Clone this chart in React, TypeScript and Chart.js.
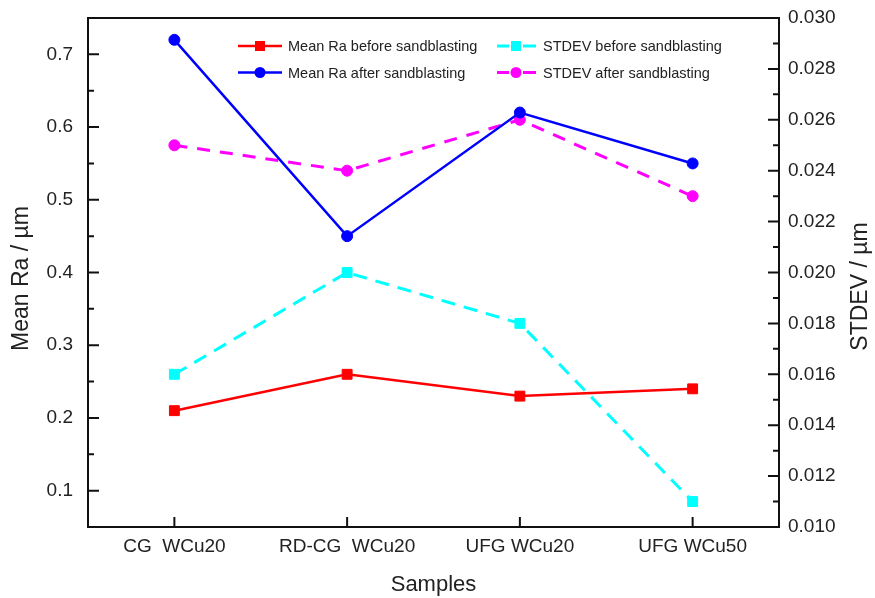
import React, { useEffect, useRef } from "react";
import { Chart, registerables } from "chart.js";

Chart.register(...registerables);

const categories = ["CG  WCu20", "RD-CG  WCu20", "UFG WCu20", "UFG WCu50"];
const meanRaBefore = [0.21, 0.26, 0.23, 0.24];
const meanRaAfter = [0.72, 0.45, 0.62, 0.55];
const stdevBefore = [0.016, 0.02, 0.018, 0.011];
const stdevAfter = [0.025, 0.024, 0.026, 0.023];
const leftTicks = [0.1, 0.2, 0.3, 0.4, 0.5, 0.6, 0.7];
const rightTicks = [0.01, 0.012, 0.014, 0.016, 0.018, 0.02, 0.022, 0.024, 0.026, 0.028, 0.03];
const legendLabels = [
  "Mean Ra before sandblasting",
  "Mean Ra after sandblasting",
  "STDEV before sandblasting",
  "STDEV after sandblasting",
];
const leftTitle = "Mean Ra / µm";
const rightTitle = "STDEV / µm";

const FONT = '"Liberation Sans", Arial, sans-serif';
const TEXT = "#222";

const framePlugin = {
  id: "frameTicks",
  afterDraw(chart: any) {
    const ctx = chart.ctx;
    const { left, right, top, bottom } = chart.chartArea;
    const y = chart.scales.y;
    const y1 = chart.scales.y1;
    const x = chart.scales.x;
    ctx.save();
    ctx.strokeStyle = "#111";
    ctx.lineWidth = 2;
    ctx.beginPath();
    ctx.rect(left, top, right - left, bottom - top);
    ctx.stroke();
    ctx.beginPath();
    leftTicks.forEach((v, i) => {
      const py = y.getPixelForValue(v);
      ctx.moveTo(left, py);
      ctx.lineTo(left + 11, py);
      if (i < leftTicks.length - 1) {
        const my = y.getPixelForValue((v + leftTicks[i + 1]) / 2);
        ctx.moveTo(left, my);
        ctx.lineTo(left + 6, my);
      }
    });
    rightTicks.forEach((v, i) => {
      const py = y1.getPixelForValue(v);
      ctx.moveTo(right, py);
      ctx.lineTo(right - 11, py);
      if (i < rightTicks.length - 1) {
        const my = y1.getPixelForValue((v + rightTicks[i + 1]) / 2);
        ctx.moveTo(right, my);
        ctx.lineTo(right - 6, my);
      }
    });
    categories.forEach((_, i) => {
      const px = x.getPixelForValue(i);
      ctx.moveTo(px, bottom);
      ctx.lineTo(px, bottom - 10);
    });
    ctx.stroke();

    // axis titles, reading bottom-to-top
    const vTitle = (text: string, cx: number, cy: number) => {
      ctx.save();
      ctx.translate(cx, cy);
      ctx.rotate(-Math.PI / 2);
      ctx.fillStyle = TEXT;
      ctx.font = `23px ${FONT}`;
      ctx.textAlign = "center";
      ctx.textBaseline = "middle";
      ctx.fillText(text, 0, 0);
      ctx.restore();
    };
    vTitle(leftTitle, 22, (top + bottom) / 2 + 6);
    vTitle(rightTitle, 861, (top + bottom) / 2 + 14);

    // legend
    const rows = [46, 72.5];
    const items = [
      { col: 0, row: 0, color: "#ff0000", style: "rect", dashed: false },
      { col: 0, row: 1, color: "#0000ff", style: "circle", dashed: false },
      { col: 1, row: 0, color: "#00ffff", style: "rect", dashed: true },
      { col: 1, row: 1, color: "#ff00ff", style: "circle", dashed: true },
    ];
    const cols = [
      { x0: 238, x1: 282, mx: 260, tx: 288 },
      { x0: 497, x1: 536, mx: 516, tx: 543 },
    ];
    items.forEach((it, i) => {
      const c = cols[it.col];
      const yy = rows[it.row];
      ctx.strokeStyle = it.color;
      ctx.fillStyle = it.color;
      ctx.lineWidth = it.dashed ? 3 : 2.5;
      ctx.beginPath();
      if (it.dashed) {
        ctx.moveTo(c.x0, yy);
        ctx.lineTo(c.mx - 7, yy);
        ctx.moveTo(c.mx + 7, yy);
        ctx.lineTo(c.x1, yy);
      } else {
        ctx.moveTo(c.x0, yy);
        ctx.lineTo(c.x1, yy);
      }
      ctx.stroke();
      ctx.beginPath();
      if (it.style === "rect") {
        ctx.rect(c.mx - 5, yy - 5, 10, 10);
      } else {
        ctx.arc(c.mx, yy, 5.5, 0, Math.PI * 2);
      }
      ctx.fill();
      ctx.fillStyle = TEXT;
      ctx.font = `14.5px ${FONT}`;
      ctx.textAlign = "left";
      ctx.textBaseline = "middle";
      ctx.fillText(legendLabels[i], c.tx, yy + 1);
    });
    ctx.restore();
  },
};

const fixY = (w: number) => (s: any) => {
  s.width = w;
  s.paddingTop = 0;
  s.paddingBottom = 0;
};

export default function App() {
  const ref = useRef<HTMLCanvasElement | null>(null);
  useEffect(() => {
    document.body.style.margin = "0";
    const canvas = ref.current;
    if (!canvas) return;
    const chart = new Chart(canvas, {
      type: "line",
      data: {
        labels: categories,
        datasets: [
          {
            label: legendLabels[0],
            data: meanRaBefore,
            yAxisID: "y",
            borderColor: "#ff0000",
            backgroundColor: "#ff0000",
            borderWidth: 2.5,
            pointStyle: "rect",
            pointRadius: 7,
            pointBorderWidth: 1,
            tension: 0,
          },
          {
            label: legendLabels[1],
            data: meanRaAfter,
            yAxisID: "y",
            borderColor: "#0000ff",
            backgroundColor: "#0000ff",
            borderWidth: 2.5,
            pointStyle: "circle",
            pointRadius: 5.5,
            pointBorderWidth: 1,
            tension: 0,
          },
          {
            label: legendLabels[2],
            data: stdevBefore,
            yAxisID: "y1",
            borderColor: "#00ffff",
            backgroundColor: "#00ffff",
            borderWidth: 3,
            borderDash: [14, 9],
            pointStyle: "rect",
            pointRadius: 7,
            pointBorderWidth: 1,
            tension: 0,
          },
          {
            label: legendLabels[3],
            data: stdevAfter,
            yAxisID: "y1",
            borderColor: "#ff00ff",
            backgroundColor: "#ff00ff",
            borderWidth: 3,
            borderDash: [13, 10],
            pointStyle: "circle",
            pointRadius: 5.5,
            pointBorderWidth: 1,
            tension: 0,
          },
        ],
      },
      options: {
        animation: false,
        responsive: true,
        maintainAspectRatio: false,
        layout: { padding: { top: 18, left: 0, right: 0, bottom: 0 } },
        plugins: { legend: { display: false }, tooltip: { enabled: false } },
        scales: {
          x: {
            type: "category",
            offset: true,
            grid: { display: false, drawTicks: false },
            border: { display: false },
            ticks: { color: TEXT, font: { family: FONT, size: 19 }, padding: 8, maxRotation: 0, autoSkip: false },
            title: { display: true, text: "Samples", color: TEXT, font: { family: FONT, size: 22 }, padding: { top: 0, bottom: 0 } },
            afterFit: (s: any) => {
              s.height = 71;
            },
          },
          y: {
            position: "left",
            min: 0.05,
            max: 0.75,
            grid: { display: false, drawTicks: false },
            border: { display: false },
            afterBuildTicks: (s: any) => {
              s.ticks = leftTicks.map((v) => ({ value: v }));
            },
            ticks: {
              color: TEXT,
              font: { family: FONT, size: 19 },
              padding: 15,
              callback: (v: any) => Number(v).toFixed(1),
            },
            title: { display: false },
            afterFit: fixY(88),
          },
          y1: {
            position: "right",
            min: 0.01,
            max: 0.03,
            grid: { display: false, drawTicks: false },
            border: { display: false },
            afterBuildTicks: (s: any) => {
              s.ticks = rightTicks.map((v) => ({ value: v }));
            },
            ticks: {
              color: TEXT,
              font: { family: FONT, size: 19 },
              padding: 9,
              callback: (v: any) => Number(v).toFixed(3),
            },
            title: { display: false },
            afterFit: fixY(96),
          },
        },
      },
      plugins: [framePlugin],
    });
    return () => chart.destroy();
  }, []);
  return (
    <div style={{ position: "absolute", left: 0, top: 0, width: 875, height: 598, background: "#fff" }}>
      <canvas ref={ref} />
    </div>
  );
}
